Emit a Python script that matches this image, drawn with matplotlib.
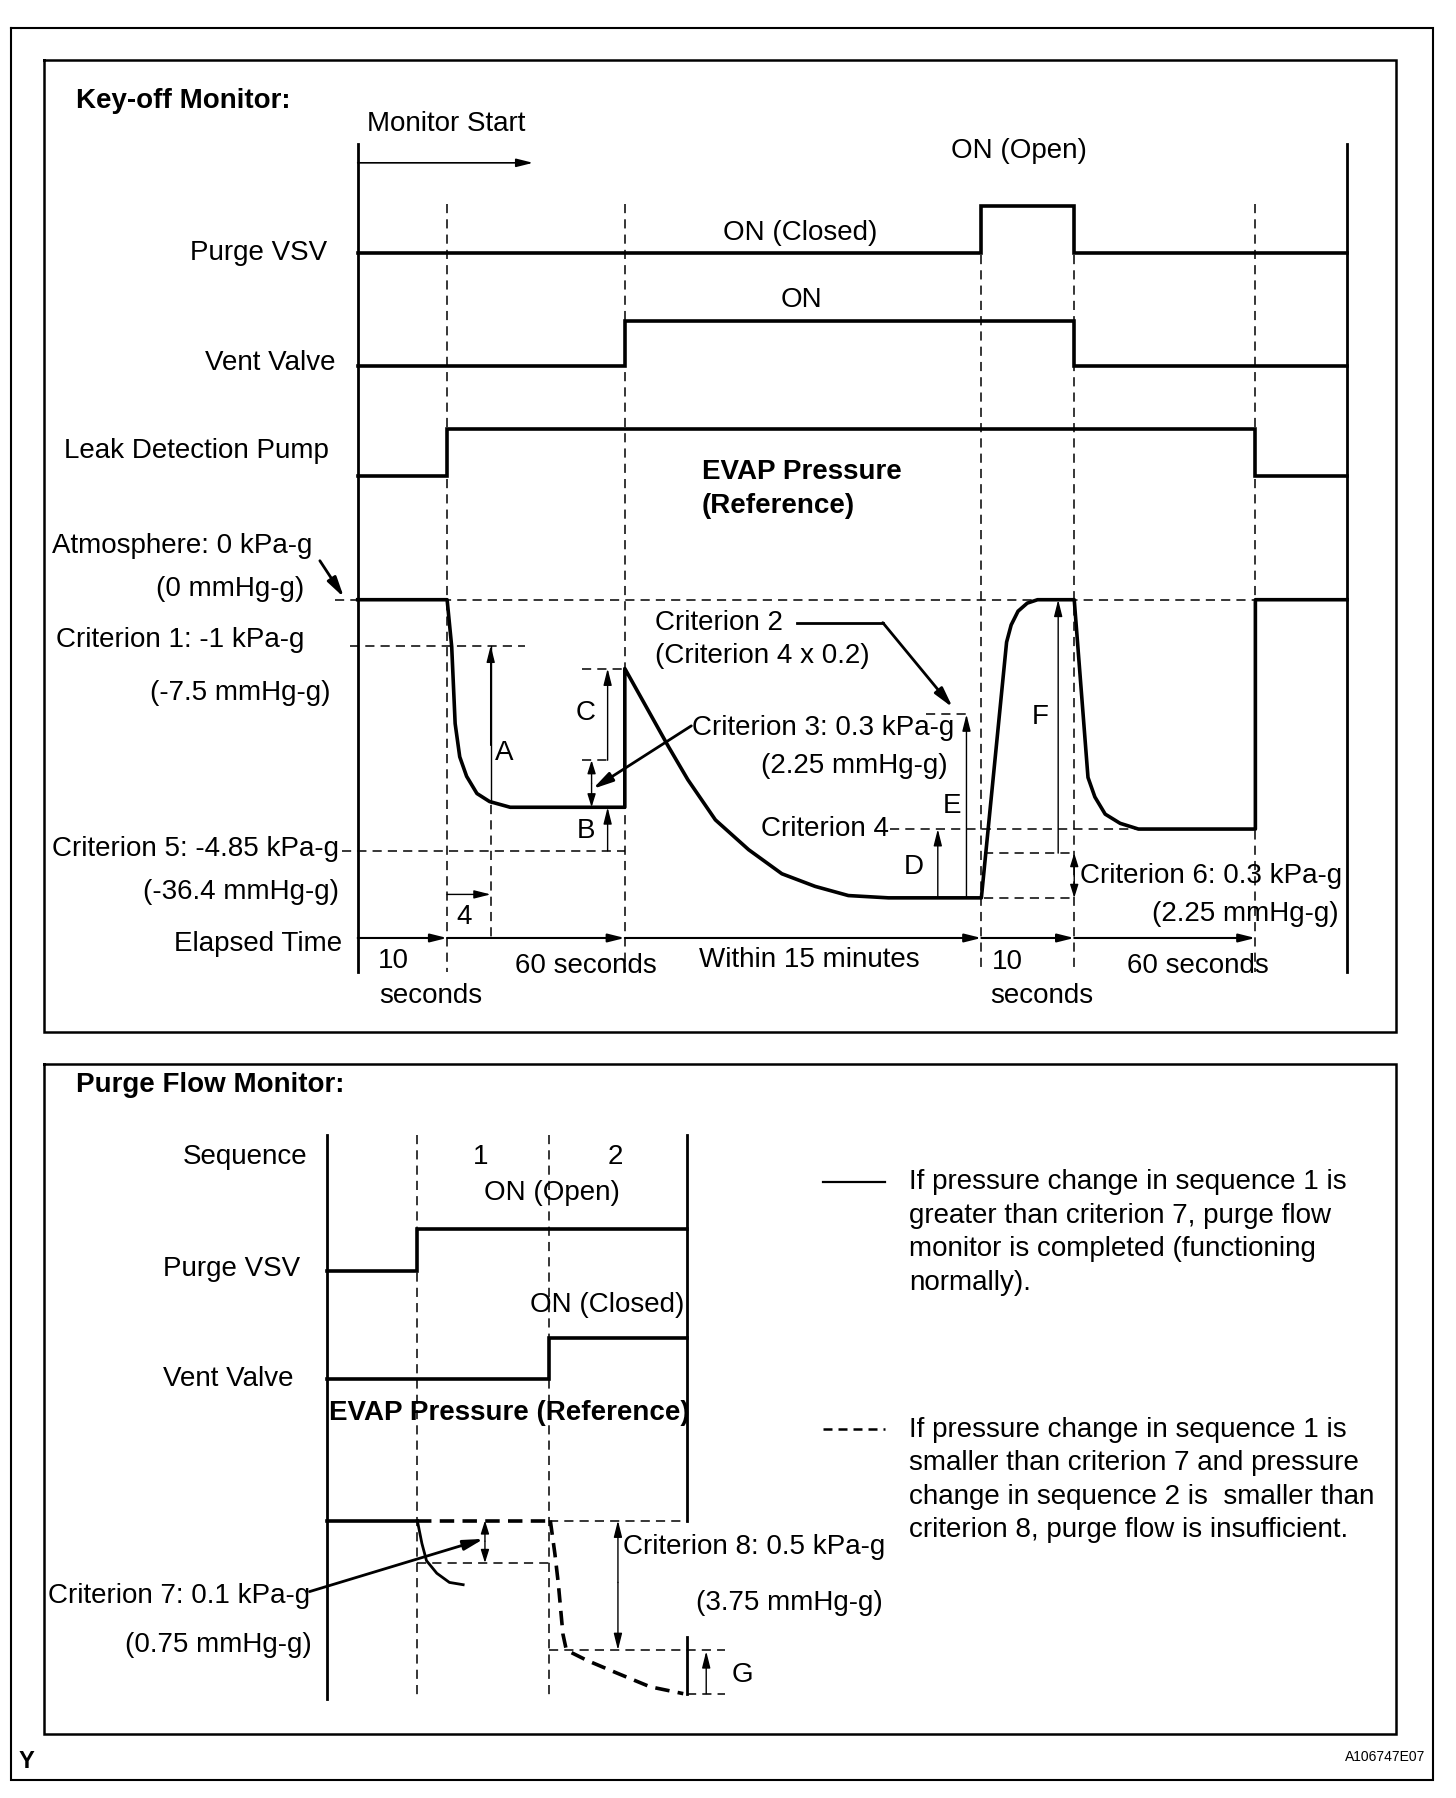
import matplotlib
matplotlib.use("Agg")
import matplotlib.pyplot as plt

plt.rcParams["font.family"] = ["Liberation Sans", "DejaVu Sans"]

# ── Key-off monitor: event boundaries (diagram x units) ──────────────────────
KEY_T = [312, 390, 545, 856, 937, 1095, 1175]   # start, pump on, vent on, purge open, purge close, pump off, end
KEY_X_END = 1175

# digital signal traces: (x breakpoints, levels)
PURGE_X = [312, 856, 856, 937, 937, 1175]
PURGE_Y = [221, 221, 180, 180, 221, 221]
VENT_X = [312, 545, 545, 937, 937, 1175]
VENT_Y = [319, 319, 280, 280, 319, 319]
PUMP_X = [312, 390, 390, 1095, 1095, 1175]
PUMP_Y = [415, 415, 374, 374, 415, 415]

# EVAP pressure trace
EVAP_X = [312, 390, 394, 397, 401, 407, 416, 427, 445, 545, 545,
          583, 600, 624, 653, 682, 711, 740, 775, 856,
          878, 882, 888, 896, 905, 937, 949, 955, 964, 977, 993, 1095, 1095, 1175]
EVAP_Y = [523, 523, 564, 631, 660, 677, 692, 699, 704, 704, 583,
          651, 680, 715, 741, 762, 773, 781, 783, 783,
          560, 545, 533, 526, 523, 523, 678, 695, 710, 718, 723, 723, 523, 523]

LVL_ATM = 523
LVL_CRIT1 = 563
LVL_CRIT5 = 742
LVL_CRIT4 = 723
LVL_CRIT23 = 623
LVL_C_TOP = 583
LVL_C_BOT = 663
LVL_FLAT = 704
LVL_LOW = 783
LVL_CRIT6 = 744
Y_TIME = 818

# ── Purge flow monitor ───────────────────────────────────────────────────────
PF_T = [285, 364, 479, 599]
PF_PURGE_X = [285, 364, 364, 599]
PF_PURGE_Y = [1108, 1108, 1072, 1072]
PF_VENT_X = [285, 479, 479, 599]
PF_VENT_Y = [1203, 1203, 1167, 1167]
PF_OK_X = [364, 368, 372, 381, 392, 404]
PF_OK_Y = [1326, 1346, 1361, 1372, 1380, 1382]
PF_BAD_X = [480, 484, 487, 491, 494, 512, 538, 567, 596]
PF_BAD_Y = [1326, 1355, 1381, 1425, 1439, 1448, 1459, 1471, 1477]
PF_BASE = 1326
PF_CRIT7 = 1363
PF_CRIT8 = 1439
PF_END = 1477

FS = 20
K = "black"
fig = plt.figure(figsize=(14.56, 17.98), dpi=100)
ax = fig.add_axes([0, 0, 1, 1])
ax.set_xlim(0, 1270)
ax.set_ylim(1568, 0)
ax.axis("off")

DASH = (0, (6, 4))


def rect(x0, y0, x1, y1, lw):
    ax.plot([x0, x1, x1, x0, x0], [y0, y0, y1, y1, y0], color=K, lw=lw, solid_joinstyle="miter")


def hdash(y, x0, x1, lw=1.1):
    ax.plot([x0, x1], [y, y], color=K, lw=lw, ls=DASH)


def vdash(x, y0, y1, lw=1.1):
    ax.plot([x, x], [y0, y1], color=K, lw=lw, ls=DASH)


def arrow(x0, y0, x1, y1, lw=1.0, style="-|>", hl=1.0, hw=0.25):
    ax.annotate("", xy=(x1, y1), xytext=(x0, y0),
                arrowprops=dict(arrowstyle=f"{style},head_length={hl},head_width={hw}",
                                lw=lw, color=K, shrinkA=0, shrinkB=0))


def txt(x, y, s, ha="left", bold=False, size=FS):
    ax.text(x, y, s, ha=ha, va="center", fontsize=size,
            fontweight="bold" if bold else "normal", color=K)


# frames
rect(10, 24, 1250, 1552, 1.5)
rect(38, 52, 1218, 900, 1.8)
rect(38, 928, 1218, 1512, 1.8)

# ── Key-off monitor ──────────────────────────────────────────────────────────
txt(66, 88, "Key-off Monitor:", bold=True)
txt(320, 108, "Monitor Start")
arrow(KEY_T[0], 142, 465, 142, lw=1.2)
ax.plot([KEY_T[0], KEY_T[0]], [126, 848], color=K, lw=2.0)
ax.plot([KEY_X_END, KEY_X_END], [126, 848], color=K, lw=2.0)

vdash(KEY_T[1], 178, 848)
vdash(KEY_T[2], 178, 848)
vdash(KEY_T[3], 222, 848)
vdash(KEY_T[4], 222, 848)
vdash(KEY_T[5], 178, 848)

ax.plot(PURGE_X, PURGE_Y, color=K, lw=2.6, solid_joinstyle="miter")
ax.plot(VENT_X, VENT_Y, color=K, lw=2.6, solid_joinstyle="miter")
ax.plot(PUMP_X, PUMP_Y, color=K, lw=2.6, solid_joinstyle="miter")
txt(285, 221, "Purge VSV", ha="right")
txt(293, 317, "Vent Valve", ha="right")
txt(287, 393, "Leak Detection Pump", ha="right")
txt(698, 203, "ON (Closed)", ha="center")
txt(889, 132, "ON (Open)", ha="center")
txt(699, 262, "ON", ha="center")
txt(612, 412, "EVAP Pressure", bold=True)
txt(612, 441, "(Reference)", bold=True)

# reference dashed levels
hdash(LVL_ATM, 292, KEY_T[5])
hdash(LVL_CRIT1, 305, 458)
hdash(LVL_CRIT5, 298, KEY_T[2])
hdash(LVL_CRIT4, 776, 990)
hdash(LVL_CRIT23, 808, 843)
hdash(LVL_C_TOP, 508, KEY_T[2])
hdash(LVL_C_BOT, 508, 532)
hdash(LVL_CRIT6, 858, KEY_T[4])
hdash(LVL_LOW, 858, KEY_T[4])

ax.plot(EVAP_X, EVAP_Y, color=K, lw=2.6, solid_joinstyle="round")

# A, B, C, D, E, F and 4
ax.plot([428, 428], [700, LVL_CRIT1], color=K, lw=1.0)
arrow(428, 650, 428, LVL_CRIT1)
vdash(428, 702, Y_TIME)
txt(440, 657, "A", ha="center")
arrow(KEY_T[1], 780, 428, 780)
txt(405, 800, "4", ha="center")
arrow(530, LVL_C_BOT, 530, LVL_C_TOP)
txt(511, 622, "C", ha="center")
arrow(530, LVL_CRIT5, 530, LVL_FLAT)
txt(511, 725, "B", ha="center")
arrow(516, 683, 516, LVL_C_BOT, hl=0.8)
arrow(516, 683, 516, LVL_FLAT, hl=0.8)
arrow(818, LVL_LOW, 818, LVL_CRIT4)
txt(797, 756, "D", ha="center")
arrow(843, LVL_LOW, 843, LVL_CRIT23)
txt(830, 703, "E", ha="center")
arrow(923, LVL_CRIT6, 923, LVL_ATM)
txt(907, 625, "F", ha="center")
arrow(937, 764, 937, LVL_CRIT6, hl=0.8)
arrow(937, 764, 937, LVL_LOW, hl=0.8)

# pointers
arrow(279, 489, 300, 521, lw=2.0, hl=1.2, hw=0.3)
ax.plot([695, 770], [543, 543], color=K, lw=2.0)
arrow(770, 543, 831, 617, lw=2.0, hl=1.2, hw=0.3)
arrow(603, 633, 517, 688, lw=2.0, hl=1.2, hw=0.3)

# left labels
txt(45, 476, "Atmosphere: 0 kPa-g")
txt(265, 514, "(0 mmHg-g)", ha="right")
txt(49, 558, "Criterion 1: -1 kPa-g")
txt(288, 604, "(-7.5 mmHg-g)", ha="right")
txt(45, 740, "Criterion 5: -4.85 kPa-g")
txt(296, 778, "(-36.4 mmHg-g)", ha="right")
txt(571, 543, "Criterion 2")
txt(571, 572, "(Criterion 4 x 0.2)")
txt(604, 635, "Criterion 3: 0.3 kPa-g")
txt(827, 668, "(2.25 mmHg-g)", ha="right")
txt(775, 723, "Criterion 4", ha="right")
txt(942, 764, "Criterion 6: 0.3 kPa-g")
txt(1168, 797, "(2.25 mmHg-g)", ha="right")

# elapsed time axis
for a, b in zip(KEY_T[:-2], KEY_T[1:-1]):
    arrow(a, Y_TIME, b, Y_TIME, lw=1.5)
txt(298, 823, "Elapsed Time", ha="right")
txt(330, 838, "10")
txt(376, 869, "seconds", ha="center")
txt(511, 842, "60 seconds", ha="center")
txt(706, 837, "Within 15 minutes", ha="center")
txt(865, 839, "10")
txt(909, 869, "seconds", ha="center")
txt(1045, 842, "60 seconds", ha="center")

# ── Purge flow monitor ───────────────────────────────────────────────────────
txt(66, 946, "Purge Flow Monitor:", bold=True)
ax.plot([PF_T[0], PF_T[0]], [990, 1482], color=K, lw=2.0)
ax.plot([PF_T[3], PF_T[3]], [990, PF_BASE], color=K, lw=2.0)
ax.plot([PF_T[3], PF_T[3]], [1428, PF_END], color=K, lw=2.0)
vdash(PF_T[1], 990, 1482)
vdash(PF_T[2], 990, 1482)

txt(268, 1009, "Sequence", ha="right")
txt(419, 1009, "1", ha="center")
txt(537, 1009, "2", ha="center")
txt(481, 1040, "ON (Open)", ha="center")
ax.plot(PF_PURGE_X, PF_PURGE_Y, color=K, lw=2.6, solid_joinstyle="miter")
txt(262, 1107, "Purge VSV", ha="right")
txt(530, 1138, "ON (Closed)", ha="center")
ax.plot(PF_VENT_X, PF_VENT_Y, color=K, lw=2.6, solid_joinstyle="miter")
txt(256, 1203, "Vent Valve", ha="right")
txt(287, 1232, "EVAP Pressure (Reference)", bold=True)

ax.plot([PF_T[0], PF_T[1]], [PF_BASE, PF_BASE], color=K, lw=2.6)
ax.plot([PF_T[1], PF_T[2]], [PF_BASE, PF_BASE], color=K, lw=2.6, ls=(0, (4, 2.3)))
ax.plot(PF_OK_X, PF_OK_Y, color=K, lw=2.0)
ax.plot(PF_BAD_X, PF_BAD_Y, color=K, lw=2.6, ls=(0, (4, 2.3)))

hdash(PF_BASE, PF_T[2], PF_T[3])
hdash(PF_CRIT7, PF_T[1], PF_T[2])
hdash(PF_CRIT8, PF_T[2], 632)
hdash(PF_END, PF_T[3], 632)
arrow(423, 1344, 423, PF_BASE, hl=0.8)
arrow(423, 1344, 423, PF_CRIT7, hl=0.8)
arrow(539, 1380, 539, PF_BASE)
arrow(539, 1380, 539, PF_CRIT8)
arrow(616, PF_END, 616, PF_CRIT8 + 1)
txt(638, 1461, "G")
arrow(270, 1388, 422, 1342, lw=2.0, hl=1.2, hw=0.3)

txt(543, 1349, "Criterion 8: 0.5 kPa-g")
txt(770, 1398, "(3.75 mmHg-g)", ha="right")
txt(42, 1392, "Criterion 7: 0.1 kPa-g")
txt(272, 1435, "(0.75 mmHg-g)", ha="right")

# legend
ax.plot([718, 772], [1031, 1031], color=K, lw=1.6)
for i, line in enumerate(["If pressure change in sequence 1 is",
                          "greater than criterion 7, purge flow",
                          "monitor is completed (functioning",
                          "normally)."]):
    txt(793, 1031 + i * 29.2, line)
ax.plot([718, 772], [1246, 1246], color=K, lw=1.8, ls=(0, (3.6, 2.4)))
for i, line in enumerate(["If pressure change in sequence 1 is",
                          "smaller than criterion 7 and pressure",
                          "change in sequence 2 is  smaller than",
                          "criterion 8, purge flow is insufficient."]):
    txt(793, 1247 + i * 29.2, line)

txt(16, 1536, "Y", bold=True, size=17)
txt(1243, 1532, "A106747E07", ha="right", size=10)

fig.savefig("out.png", dpi=100)
